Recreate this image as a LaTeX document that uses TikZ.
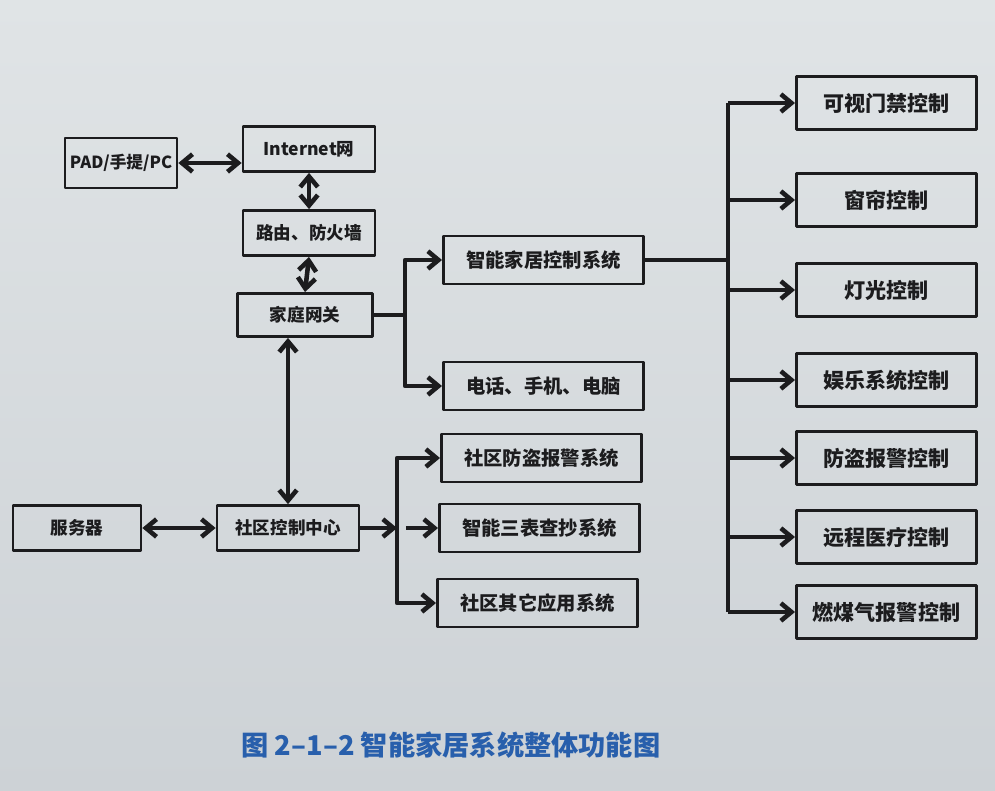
\documentclass[tikz,border=0pt]{standalone}
\usepackage{fontspec}
\setmainfont{Noto Sans CJK SC}
\usetikzlibrary{arrows.meta}
\definecolor{muc}{RGB}{28,28,30}
\definecolor{xanh}{RGB}{40,95,172}
\definecolor{giaytren}{RGB}{224,228,230}
\definecolor{giayduoi}{RGB}{205,210,214}
\begin{document}
\begin{tikzpicture}[x=0.02cm, y=-0.02cm, line join=round, >={Straight Barb[length=6pt,width=10pt]}]
	\tikzset{
		hop/.style={draw=muc, line width=1.6pt, text=muc, inner sep=2pt, font=\bfseries\fontsize{10}{12}\selectfont},
		hoptrai/.style={hop, minimum width=2.64cm, minimum height=0.9cm},
		hopgiua/.style={hop, anchor=west, minimum width=4cm, minimum height=0.96cm, font=\bfseries\fontsize{11}{13}\selectfont},
		hopphai/.style={hop, anchor=west, minimum width=3.6cm, minimum height=1.06cm, font=\bfseries\fontsize{12}{14}\selectfont},
		noi/.style={draw=muc, line width=2.6pt}
	}
	%Nền giấy
	\shade[top color=giaytren, bottom color=giayduoi] (0,0) rectangle (995,791);
	
	%Cột bên trái
	\node[hoptrai, minimum width=2.24cm, minimum height=1cm, font=\bfseries\fontsize{9.5}{11}\selectfont] (pad) at (121,163) {PAD/手提/PC};
	\node[hoptrai] (internet) at (309,149) {Internet网};
	\node[hoptrai] (luyou) at (309,233) {路由、防火墙};
	\node[hoptrai, minimum width=2.7cm, minimum height=0.86cm] (wangguan) at (305,315) {家庭网关};
	\node[hoptrai, minimum width=2.56cm] (fuwuqi) at (77,528) {服务器};
	\node[hoptrai, minimum width=2.84cm] (zhongxin) at (288,528) {社区控制中心};
	
	%Cột giữa
	\node[hopgiua] (jiaju) at (442,260) {智能家居控制系统};
	\node[hopgiua] (dianhua) at (442,386) {电话、手机、电脑};
	\node[hopgiua] (fangdao) at (440,458) {社区防盗报警系统};
	\node[hopgiua] (sanbiao) at (438,528) {智能三表查抄系统};
	\node[hopgiua] (qita) at (436,603) {社区其它应用系统};
	
	%Cột bên phải
	\foreach \ten/\y/\chu in {menjin/103/可视门禁控制, chuanglian/200/窗帘控制, dengguang/290/灯光控制, yule/380/娱乐系统控制, baojing/458/防盗报警控制, yiliao/537/远程医疗控制, meiqi/612/燃煤气报警控制}
		\node[hopphai] (\ten) at (795,\y) {\chu};
	
	%Mũi tên hai chiều
	\draw[noi,<->] (pad.east) -- (pad.east -| internet.west);
	\draw[noi,<->] (internet.south) -- (luyou.north);
	\draw[noi,<->] (luyou.south) -- (wangguan.north);
	\draw[noi,<->] (zhongxin.north) -- (zhongxin.north |- wangguan.south);
	\draw[noi,<->] (fuwuqi.east) -- (zhongxin.west);
	
	%Nhánh từ gia đình
	\coordinate (re1) at (405,0);
	\draw[noi,->] (wangguan.east) -- (wangguan.east -| re1) |- (jiaju.west);
	\draw[noi,->] (wangguan.east -| re1) |- (dianhua.west);
	
	%Nhánh từ cộng đồng
	\coordinate (re2) at (397,0);
	\draw[noi,->] (zhongxin.east) -- (zhongxin.east -| re2);
	\draw[noi,->] (zhongxin.east -| re2) |- (fangdao.west);
	\draw[noi,->] (zhongxin.east -| re2) |- (qita.west);
	\draw[noi,->,shorten <=5pt] (zhongxin.east -| re2) -- (sanbiao.west);
	
	%Nhánh điều khiển
	\coordinate (re3) at (728,0);
	\draw[noi] (jiaju.east) -- (jiaju.east -| re3);
	\draw[noi] (re3 |- menjin.west) -- (re3 |- meiqi.west);
	\foreach \ten in {menjin,chuanglian,dengguang,yule,baojing,yiliao,meiqi}
		\draw[noi,->] (re3 |- \ten.west) -- (\ten.west);
	
	%Tiêu đề
	\node[text=xanh, font=\bfseries\fontsize{15.5}{18}\selectfont] (tieude) at (451,745) {图 2–1–2 智能家居系统整体功能图};
\end{tikzpicture}
\end{document}
